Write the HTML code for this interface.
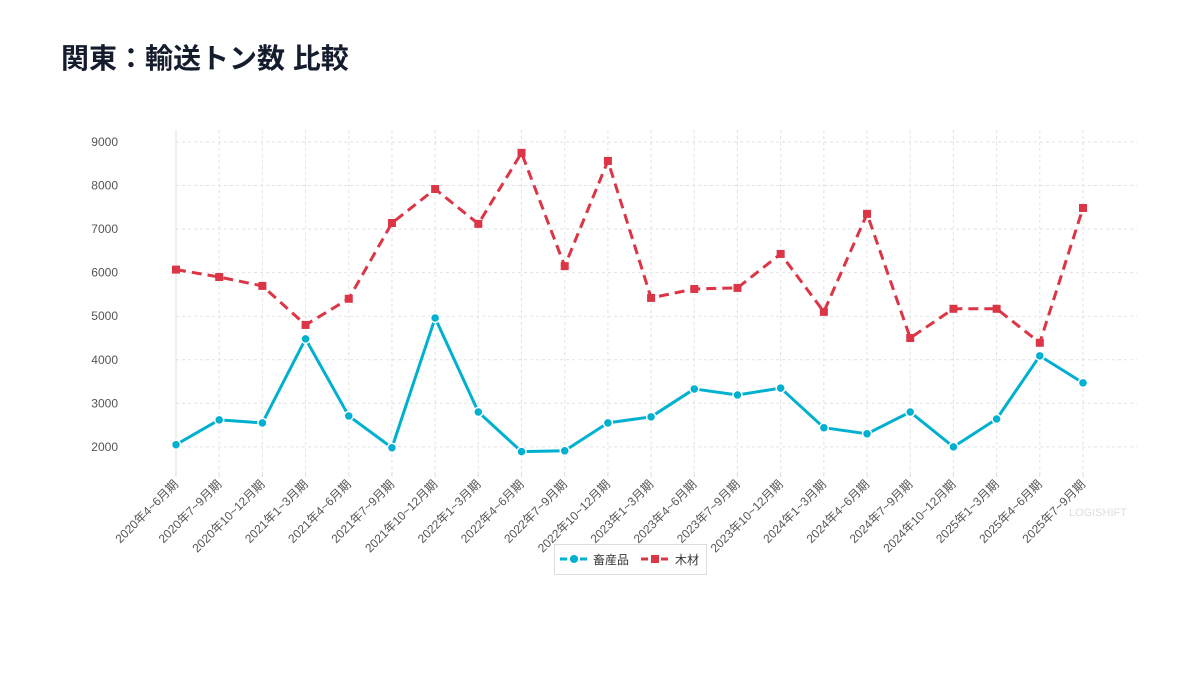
<!DOCTYPE html>
<html><head><meta charset="utf-8"><style>
body{margin:0;background:#fff;width:1200px;height:675px;overflow:hidden;font-family:"Liberation Sans","Noto Sans CJK JP",sans-serif}
h1{position:absolute;left:61px;top:37px;margin:0;font-size:28px;font-weight:bold;color:#141c2e;font-family:"Liberation Sans","Noto Sans CJK JP",sans-serif}
svg{position:absolute;left:0;top:0}
</style></head><body>
<h1>関東：輸送トン数 比較</h1>
<svg id="c" width="1200" height="675"></svg>
<script>
const categories=["2020年4~6月期","2020年7~9月期","2020年10~12月期","2021年1~3月期","2021年4~6月期","2021年7~9月期","2021年10~12月期","2022年1~3月期","2022年4~6月期","2022年7~9月期","2022年10~12月期","2023年1~3月期","2023年4~6月期","2023年7~9月期","2023年10~12月期","2024年1~3月期","2024年4~6月期","2024年7~9月期","2024年10~12月期","2025年1~3月期","2025年4~6月期","2025年7~9月期"];
const livestock=[2050,2620,2550,4480,2710,1980,4960,2800,1890,1910,2550,2690,3330,3190,3350,2440,2300,2800,2000,2640,4090,3470];
const timber=[6070,5900,5695,4800,5400,7140,7920,7120,8750,6150,8565,5420,5625,5650,6430,5100,7350,4500,5170,5170,4390,7485];
const yTicks=[2000,3000,4000,5000,6000,7000,8000,9000];
const NS="http://www.w3.org/2000/svg";
const svg=document.getElementById('c');
const x0=176,x1=1083,yTop=130,yBot=473,xRight=1137;
const yMin=1400,yMax=9275;
const xs=i=>x0+(x1-x0)*i/(categories.length-1);
const ys=v=>yBot-(v-yMin)/(yMax-yMin)*(yBot-yTop);
function mk(t,a,p){const e=document.createElementNS(NS,t);for(const k in a)e.setAttribute(k,a[k]);(p||svg).appendChild(e);return e;}
const grid=mk('g',{});


yTicks.forEach(v=>{
  const l=mk('line',{x1:x0,x2:xRight,y1:ys(v),y2:ys(v),stroke:'#e2e2e2','stroke-dasharray':'3,3'},grid);
  
  
  const t=mk('text',{x:118,y:ys(v)+4,'text-anchor':'end','font-size':12,fill:'#555'});
  t.textContent=v;
  
  
});
categories.forEach((c,i)=>{
  const x=xs(i);
  if(i>0){const l=mk('line',{x1:x,x2:x,y1:yTop,y2:yBot,stroke:'#e2e2e2','stroke-dasharray':'3,3'},grid);
  
  }
  const tk=mk('line',{x1:x,x2:x,y1:yBot,y2:yBot+4,stroke:'#ddd'});
  
  
  const t=mk('text',{x:x+3,y:yBot+12,'text-anchor':'end','font-size':12,fill:'#555',transform:`rotate(-45 ${x+3} ${yBot+12})`});
  t.textContent=c;
  
  
});
const ax=mk('line',{x1:x0,x2:x0,y1:yTop,y2:yBot,stroke:'#ddd'});


function series(vals,color,dash,name,square){
  const g=mk('g',{});
  
  
  const p=mk('polyline',{points:vals.map((v,i)=>xs(i)+','+ys(v)).join(' '),fill:'none',stroke:color,'stroke-width':3,'stroke-dasharray':dash,'stroke-linejoin':'round'},g);
  
  
  vals.forEach((v,i)=>{
    let m;
    if(square) m=mk('rect',{x:xs(i)-4,y:ys(v)-4,width:8,height:8,fill:color},g);
    else m=mk('circle',{cx:xs(i),cy:ys(v),r:4.5,fill:color,stroke:'#fff','stroke-width':1.5},g);
    
    
  });
}
series(timber,'#dc3545','10,6','timber-series',true);
series(livestock,'#00b0d0','none','livestock-series',false);
const wm=mk('text',{x:1127,y:516,'text-anchor':'end','font-size':11,fill:'#ddd'});
wm.textContent='LOGISHIFT';


const lg=mk('g',{});


mk('rect',{x:554.5,y:544.5,width:152,height:30,fill:'#fff',stroke:'#ddd'},lg);
const e1=mk('g',{},lg);


mk('line',{x1:560,x2:588,y1:559,y2:559,stroke:'#00b0d0','stroke-width':3,'stroke-dasharray':'7,3'},e1);
mk('circle',{cx:574,cy:559,r:4,fill:'#00b0d0'},e1);
const t1=mk('text',{x:593,y:564,'font-size':12,fill:'#333'},e1);t1.textContent='畜産品';
const e2=mk('g',{},lg);


mk('line',{x1:641,x2:669,y1:559,y2:559,stroke:'#dc3545','stroke-width':3,'stroke-dasharray':'7,3'},e2);
mk('rect',{x:651,y:555,width:8,height:8,fill:'#dc3545'},e2);
const t2=mk('text',{x:675,y:564,'font-size':12,fill:'#333'},e2);t2.textContent='木材';
</script>
</body></html>
